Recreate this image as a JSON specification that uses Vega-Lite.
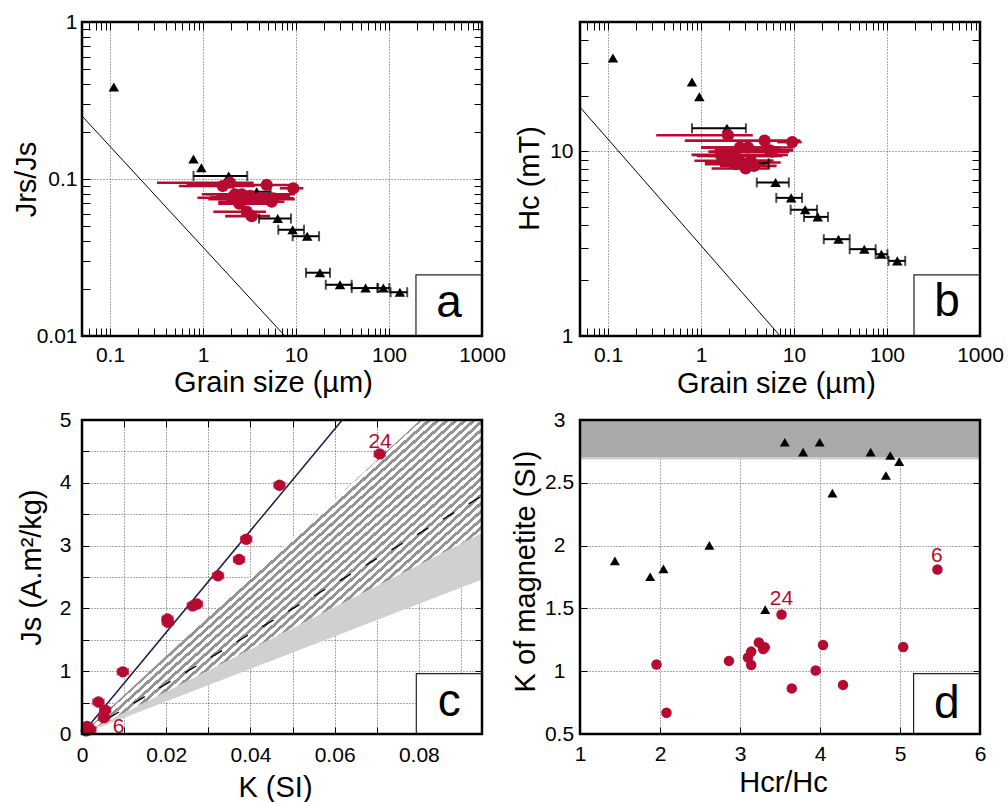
{
"$schema": "https://vega.github.io/schema/vega-lite/v6.json",
"padding": {"left": 12, "top": 11, "right": 4, "bottom": 4},
"background": "white",
"config": {
  "view": {"stroke": null},
  "font": "Liberation Sans",
  "text": {"font": "Liberation Sans"},
  "axis": {"grid": false, "labelFont": "Liberation Sans", "labelFontSize": 21, "labelColor": "black", "titleFont": "Liberation Sans", "titleFontSize": 29, "titleFontWeight": "normal", "titleColor": "black", "domain": false, "tickColor": "black", "tickWidth": 1, "gridColor": "#555555", "gridDash": [1, 2], "gridWidth": 1, "labelFlush": false, "labelOverlap": false, "labelBound": false}
},
"columns": 2,
"spacing": {"row": 84, "column": 98},
"bounds": "flush",
"datasets": {
  "a_line": [{"d": 0.05, "v": 0.252}, {"d": 7.6, "v": 0.01}],
  "a_tri": [
    {"d": 0.11, "v": 0.385}, {"d": 0.79, "v": 0.134}, {"d": 0.96, "v": 0.118},
    {"d": 1.89, "v": 0.1045, "lo": 0.79, "hi": 2.99}, {"d": 3.78, "v": 0.083, "lo": 2.12, "hi": 5.34},
    {"d": 6.36, "v": 0.056, "lo": 4.0, "hi": 8.83}, {"d": 9.2, "v": 0.0475, "lo": 6.45, "hi": 12.2},
    {"d": 13.2, "v": 0.0432, "lo": 9.2, "hi": 17.7}, {"d": 18.1, "v": 0.0253, "lo": 12.8, "hi": 23.2},
    {"d": 29.7, "v": 0.0212, "lo": 20.9, "hi": 39.7}, {"d": 56, "v": 0.0202, "lo": 39.7, "hi": 75.5},
    {"d": 87, "v": 0.0202, "lo": 75.5, "hi": 101}, {"d": 131, "v": 0.019, "lo": 104, "hi": 157}],
  "a_red": [
    {"d": 1.63, "v": 0.0902, "lo": 0.55, "hi": 3.6}, {"d": 1.95, "v": 0.0947, "lo": 0.32, "hi": 3.5},
    {"d": 4.84, "v": 0.0916, "lo": 0.67, "hi": 9.35}, {"d": 9.35, "v": 0.0873, "lo": 6.7, "hi": 12.0},
    {"d": 2.21, "v": 0.0799, "lo": 0.97, "hi": 7.9}, {"d": 2.61, "v": 0.0799, "lo": 1.1, "hi": 9.7},
    {"d": 2.04, "v": 0.076, "lo": 0.87, "hi": 8.6}, {"d": 2.5, "v": 0.0743, "lo": 1.14, "hi": 9.7},
    {"d": 3.2, "v": 0.078, "lo": 1.4, "hi": 8.6}, {"d": 4.1, "v": 0.076, "lo": 1.3, "hi": 8.0},
    {"d": 5.7, "v": 0.0754, "lo": 1.5, "hi": 9.5}, {"d": 5.48, "v": 0.0717, "lo": 1.46, "hi": 7.5},
    {"d": 2.46, "v": 0.0696, "lo": 1.46, "hi": 5.9}, {"d": 2.95, "v": 0.0619, "lo": 1.29, "hi": 4.75},
    {"d": 3.34, "v": 0.058, "lo": 1.73, "hi": 5.26}, {"d": 2.8, "v": 0.0765, "lo": 1.2, "hi": 7.0}],
  "b_line": [{"d": 0.05, "v": 17.3}, {"d": 7.1, "v": 1}],
  "b_tri": [
    {"d": 0.113, "v": 31.9}, {"d": 0.8, "v": 23.7}, {"d": 0.96, "v": 19.7},
    {"d": 1.9, "v": 13.3, "lo": 0.8, "hi": 3.04}, {"d": 3.78, "v": 8.61, "lo": 2.12, "hi": 5.34},
    {"d": 6.34, "v": 6.77, "lo": 3.98, "hi": 8.8}, {"d": 9.33, "v": 5.59, "lo": 6.45, "hi": 12.2},
    {"d": 13.2, "v": 4.82, "lo": 9.2, "hi": 17.7}, {"d": 18.0, "v": 4.41, "lo": 12.8, "hi": 23.2},
    {"d": 30.1, "v": 3.34, "lo": 20.9, "hi": 39.7}, {"d": 57, "v": 2.95, "lo": 39.7, "hi": 75.5},
    {"d": 87, "v": 2.77, "lo": 75.5, "hi": 101}, {"d": 129, "v": 2.55, "lo": 104, "hi": 157}],
  "b_red": [
    {"d": 1.95, "v": 12.2, "lo": 0.33, "hi": 3.6}, {"d": 4.83, "v": 11.4, "lo": 0.67, "hi": 11.7},
    {"d": 9.57, "v": 11.2, "lo": 6.6, "hi": 12.1}, {"d": 2.62, "v": 10.47, "lo": 1.0, "hi": 9.8},
    {"d": 3.2, "v": 10.47, "lo": 1.0, "hi": 7.2}, {"d": 5.5, "v": 10.1, "lo": 1.4, "hi": 9.8},
    {"d": 5.8, "v": 9.95, "lo": 1.2, "hi": 8.9}, {"d": 1.63, "v": 9.55, "lo": 0.79, "hi": 8.6},
    {"d": 1.8, "v": 9.43, "lo": 0.9, "hi": 7.5}, {"d": 2.3, "v": 9.43, "lo": 1.2, "hi": 6.5},
    {"d": 2.09, "v": 8.87, "lo": 0.85, "hi": 6.0}, {"d": 2.67, "v": 8.69, "lo": 1.1, "hi": 7.2},
    {"d": 3.42, "v": 8.87, "lo": 1.5, "hi": 6.0}, {"d": 3.71, "v": 8.33, "lo": 1.6, "hi": 6.5},
    {"d": 3.02, "v": 8.06, "lo": 1.3, "hi": 5.5}, {"d": 2.36, "v": 8.51, "lo": 1.1, "hi": 5.0}],
  "c_grey": [{"k": 0, "lo": 0, "hi": 0}, {"k": 0.095, "lo": 2.46, "hi": 3.2}],
  "c_hatch": [{"k": 0, "lo": 0, "hi": 0}, {"k": 0.0803, "lo": 2.705, "hi": 5}, {"k": 0.095, "lo": 3.2, "hi": 5}],
  "c_dash": [{"k": 0, "j": 0}, {"k": 0.095, "j": 3.79}],
  "c_navy": [{"k": 0, "j": 0}, {"k": 0.0618, "j": 5}],
  "c_red": [
    {"k": 0.0707, "j": 4.46, "lo": 0.0694, "hi": 0.072}, {"k": 0.0469, "j": 3.96, "lo": 0.0456, "hi": 0.0482},
    {"k": 0.039, "j": 3.1, "lo": 0.0377, "hi": 0.0403}, {"k": 0.0373, "j": 2.78, "lo": 0.036, "hi": 0.0386},
    {"k": 0.0323, "j": 2.52, "lo": 0.031, "hi": 0.0336}, {"k": 0.0273, "j": 2.07, "lo": 0.026, "hi": 0.0286},
    {"k": 0.0263, "j": 2.04, "lo": 0.025, "hi": 0.0276}, {"k": 0.0203, "j": 1.83, "lo": 0.019, "hi": 0.0216},
    {"k": 0.0204, "j": 1.78, "lo": 0.0191, "hi": 0.0217}, {"k": 0.0097, "j": 0.99, "lo": 0.0084, "hi": 0.011},
    {"k": 0.0039, "j": 0.51, "lo": 0.0026, "hi": 0.0052}, {"k": 0.0055, "j": 0.38, "lo": 0.0042, "hi": 0.0068},
    {"k": 0.0052, "j": 0.26, "lo": 0.0039, "hi": 0.0065}, {"k": 0.0012, "j": 0.12, "lo": 0.0001, "hi": 0.0025},
    {"k": 0.002, "j": 0.07, "lo": 0.0007, "hi": 0.0033}, {"k": 0.001, "j": 0.05, "lo": 0.0001, "hi": 0.0023}],
  "c_lab": [{"k": 0.0708, "j": 4.55, "t": "24"}, {"k": 0.0087, "j": 0.01, "t": "6"}],
  "d_tri": [
    {"hr": 1.436, "k": 1.879}, {"hr": 1.877, "k": 1.752}, {"hr": 2.043, "k": 1.815}, {"hr": 2.617, "k": 2.002},
    {"hr": 3.315, "k": 1.49}, {"hr": 3.56, "k": 2.823}, {"hr": 3.789, "k": 2.744}, {"hr": 3.996, "k": 2.823},
    {"hr": 4.155, "k": 2.418}, {"hr": 4.633, "k": 2.744}, {"hr": 4.878, "k": 2.717}, {"hr": 4.824, "k": 2.558},
    {"hr": 4.99, "k": 2.669}],
  "d_red": [
    {"hr": 5.468, "k": 1.81}, {"hr": 3.519, "k": 1.452}, {"hr": 3.236, "k": 1.228}, {"hr": 3.29, "k": 1.177},
    {"hr": 3.31, "k": 1.19}, {"hr": 3.14, "k": 1.156}, {"hr": 3.1, "k": 1.109}, {"hr": 3.14, "k": 1.05},
    {"hr": 2.862, "k": 1.082}, {"hr": 1.956, "k": 1.053}, {"hr": 2.081, "k": 0.669}, {"hr": 3.647, "k": 0.863},
    {"hr": 3.946, "k": 1.006}, {"hr": 4.038, "k": 1.209}, {"hr": 4.288, "k": 0.891}, {"hr": 5.04, "k": 1.193}],
  "d_lab": [{"hr": 3.519, "k": 1.526, "t": "24"}, {"hr": 5.46, "k": 1.871, "t": "6"}]
},
"concat": [
{
  "width": 400, "height": 314,
  "resolve": {"axis": {"x": "independent", "y": "independent"}},
  "layer": [
    {"data": {"name": "a_line"}, "mark": {"type": "line", "color": "black", "strokeWidth": 1},
     "encoding": {
       "x": {"field": "d", "type": "quantitative", "scale": {"type": "log", "domain": [0.05, 1000], "nice": false},
             "axis": {"orient": "bottom", "values": [0.05,0.06,0.07,0.08,0.09,0.1,0.2,0.3,0.4,0.5,0.6,0.7,0.8,0.9,1,2,3,4,5,6,7,8,9,10,20,30,40,50,60,70,80,90,100,200,300,400,500,600,700,800,900,1000],
                      "format": "~g", "labelExpr": "abs(log(datum.value)/LN10-round(log(datum.value)/LN10))<0.001 ? datum.label : ''",
                      "labelBaseline": "alphabetic", "labelPadding": 33, "grid": false, "tickSize": -8,
                      "encode": {"ticks": {"update": {"y2": [{"test": "abs(log(datum.value)/LN10-round(log(datum.value)/LN10))<0.001", "value": -8}, {"value": -4}]}}},
                      "title": "Grain size (µm)", "titleX": 191, "titleY": 55, "titleAlign": "center", "titleBaseline": "alphabetic"}},
       "y": {"field": "v", "type": "quantitative", "scale": {"type": "log", "domain": [0.01, 1], "nice": false},
             "axis": {"orient": "left", "values": [0.01,0.02,0.03,0.04,0.05,0.06,0.07,0.08,0.09,0.1,0.2,0.3,0.4,0.5,0.6,0.7,0.8,0.9,1],
                      "format": "~g", "labelExpr": "abs(log(datum.value)/LN10-round(log(datum.value)/LN10))<0.001 ? datum.label : ''",
                      "labelPadding": 13, "grid": false, "tickSize": -8,
                      "encode": {"ticks": {"update": {"x2": [{"test": "abs(log(datum.value)/LN10-round(log(datum.value)/LN10))<0.001", "value": 8}, {"value": 4}]}}},
                      "title": "Jrs/Js", "titleX": -47, "titleY": 157, "titleAlign": "center", "titleBaseline": "alphabetic"}}}},
    {"data": {"values": [{}]}, "mark": {"type": "rect", "fill": "white", "stroke": "#222222", "strokeWidth": 1.2},
     "encoding": {"x": {"datum": 195, "type": "quantitative", "scale": {"type": "log", "domain": [0.05, 1000], "nice": false},
                        "axis": {"orient": "bottom", "values": [0.1, 1, 10, 100], "tickCount": 4, "grid": true, "labels": false, "ticks": false, "domain": false, "title": null, "minExtent": 0, "maxExtent": 0}},
                  "x2": {"datum": 1000},
                  "y": {"datum": 0.01, "type": "quantitative", "scale": {"type": "log", "domain": [0.01, 1], "nice": false},
                        "axis": {"orient": "left", "values": [0.1], "tickCount": 2, "grid": true, "labels": false, "ticks": false, "domain": false, "title": null, "minExtent": 0, "maxExtent": 0}},
                  "y2": {"datum": 0.0245}}},
    {"data": {"values": [{}]}, "mark": {"type": "text", "text": "a", "fontSize": 46, "align": "center", "baseline": "alphabetic", "color": "black"},
     "encoding": {"x": {"datum": 441, "type": "quantitative", "scale": {"type": "log", "domain": [0.05, 1000], "nice": false}, "axis": null},
                  "y": {"datum": 0.0132, "type": "quantitative", "scale": {"type": "log", "domain": [0.01, 1], "nice": false}, "axis": null}}},
    {"data": {"name": "a_red"}, "mark": {"type": "rule", "color": "#b70a30", "strokeWidth": 2.6},
     "encoding": {"x": {"field": "lo", "type": "quantitative", "scale": {"type": "log", "domain": [0.05, 1000], "nice": false}, "axis": null}, "x2": {"field": "hi"},
                  "y": {"field": "v", "type": "quantitative", "scale": {"type": "log", "domain": [0.01, 1], "nice": false}, "axis": null}}},
    {"data": {"name": "a_tri"}, "transform": [{"filter": "isValid(datum.lo)"}],
     "mark": {"type": "errorbar", "ticks": true, "size": 10, "thickness": 2, "color": "black"},
     "encoding": {"x": {"field": "lo", "type": "quantitative", "scale": {"type": "log", "domain": [0.05, 1000], "nice": false}, "axis": null}, "x2": {"field": "hi"},
                  "y": {"field": "v", "type": "quantitative", "scale": {"type": "log", "domain": [0.01, 1], "nice": false}, "axis": null}}},
    {"data": {"name": "a_tri"}, "mark": {"type": "point", "shape": "triangle-up", "filled": true, "color": "black", "size": 110, "opacity": 1},
     "encoding": {"x": {"field": "d", "type": "quantitative", "scale": {"type": "log", "domain": [0.05, 1000], "nice": false}, "axis": null},
                  "y": {"field": "v", "type": "quantitative", "scale": {"type": "log", "domain": [0.01, 1], "nice": false}, "axis": null}}},
    {"data": {"name": "a_red"}, "mark": {"type": "circle", "color": "#b70a30", "size": 150, "opacity": 1},
     "encoding": {"x": {"field": "d", "type": "quantitative", "scale": {"type": "log", "domain": [0.05, 1000], "nice": false}, "axis": null},
                  "y": {"field": "v", "type": "quantitative", "scale": {"type": "log", "domain": [0.01, 1], "nice": false}, "axis": null}}},
    {"data": {"values": [{}]}, "mark": {"type": "rect", "fillOpacity": 0, "stroke": "black", "strokeWidth": 2.5},
     "encoding": {
       "x": {"datum": 0.05, "type": "quantitative", "scale": {"type": "log", "domain": [0.05, 1000], "nice": false},
             "axis": {"orient": "top", "values": [0.05,0.06,0.07,0.08,0.09,0.1,0.2,0.3,0.4,0.5,0.6,0.7,0.8,0.9,1,2,3,4,5,6,7,8,9,10,20,30,40,50,60,70,80,90,100,200,300,400,500,600,700,800,900,1000],
                      "labels": false, "title": null, "grid": false, "tickSize": -8,
                      "encode": {"ticks": {"update": {"y2": [{"test": "abs(log(datum.value)/LN10-round(log(datum.value)/LN10))<0.001", "value": 8}, {"value": 4}]}}}}},
       "x2": {"datum": 1000},
       "y": {"datum": 0.01, "type": "quantitative", "scale": {"type": "log", "domain": [0.01, 1], "nice": false},
             "axis": {"orient": "right", "values": [0.01,0.02,0.03,0.04,0.05,0.06,0.07,0.08,0.09,0.1,0.2,0.3,0.4,0.5,0.6,0.7,0.8,0.9,1],
                      "labels": false, "title": null, "grid": false, "tickSize": -8,
                      "encode": {"ticks": {"update": {"x2": [{"test": "abs(log(datum.value)/LN10-round(log(datum.value)/LN10))<0.001", "value": -8}, {"value": -4}]}}}}},
       "y2": {"datum": 1}}}
  ]
},
{
  "width": 400, "height": 314,
  "resolve": {"axis": {"x": "independent", "y": "independent"}},
  "layer": [
    {"data": {"name": "b_line"}, "mark": {"type": "line", "color": "black", "strokeWidth": 1},
     "encoding": {
       "x": {"field": "d", "type": "quantitative", "scale": {"type": "log", "domain": [0.05, 1000], "nice": false},
             "axis": {"orient": "bottom", "values": [0.05,0.06,0.07,0.08,0.09,0.1,0.2,0.3,0.4,0.5,0.6,0.7,0.8,0.9,1,2,3,4,5,6,7,8,9,10,20,30,40,50,60,70,80,90,100,200,300,400,500,600,700,800,900,1000],
                      "format": "~g", "labelExpr": "abs(log(datum.value)/LN10-round(log(datum.value)/LN10))<0.001 ? datum.label : ''",
                      "labelBaseline": "alphabetic", "labelPadding": 33, "grid": false, "tickSize": -8,
                      "encode": {"ticks": {"update": {"y2": [{"test": "abs(log(datum.value)/LN10-round(log(datum.value)/LN10))<0.001", "value": -8}, {"value": -4}]}}},
                      "title": "Grain size (µm)", "titleX": 196, "titleY": 56, "titleAlign": "center", "titleBaseline": "alphabetic"}},
       "y": {"field": "v", "type": "quantitative", "scale": {"type": "log", "domain": [1, 50], "nice": false},
             "axis": {"orient": "left", "values": [1,2,3,4,5,6,7,8,9,10,20,30,40,50],
                      "format": "~g", "labelExpr": "abs(log(datum.value)/LN10-round(log(datum.value)/LN10))<0.001 ? datum.label : ''",
                      "labelPadding": 15, "grid": false, "tickSize": -8,
                      "encode": {"ticks": {"update": {"x2": [{"test": "abs(log(datum.value)/LN10-round(log(datum.value)/LN10))<0.001", "value": 8}, {"value": 4}]}}},
                      "title": "Hc (mT)", "titleX": -42, "titleY": 156, "titleAlign": "center", "titleBaseline": "alphabetic"}}}},
    {"data": {"values": [{}]}, "mark": {"type": "rect", "fill": "white", "stroke": "#222222", "strokeWidth": 1.2},
     "encoding": {"x": {"datum": 195, "type": "quantitative", "scale": {"type": "log", "domain": [0.05, 1000], "nice": false},
                        "axis": {"orient": "bottom", "values": [0.1, 1, 10, 100], "tickCount": 4, "grid": true, "labels": false, "ticks": false, "domain": false, "title": null, "minExtent": 0, "maxExtent": 0}},
                  "x2": {"datum": 1000},
                  "y": {"datum": 1, "type": "quantitative", "scale": {"type": "log", "domain": [1, 50], "nice": false},
                        "axis": {"orient": "left", "values": [10], "tickCount": 2, "grid": true, "labels": false, "ticks": false, "domain": false, "title": null, "minExtent": 0, "maxExtent": 0}},
                  "y2": {"datum": 2.14}}},
    {"data": {"values": [{}]}, "mark": {"type": "text", "text": "b", "fontSize": 46, "align": "center", "baseline": "alphabetic", "color": "black"},
     "encoding": {"x": {"datum": 441, "type": "quantitative", "scale": {"type": "log", "domain": [0.05, 1000], "nice": false}, "axis": null},
                  "y": {"datum": 1.28, "type": "quantitative", "scale": {"type": "log", "domain": [1, 50], "nice": false}, "axis": null}}},
    {"data": {"name": "b_red"}, "mark": {"type": "rule", "color": "#b70a30", "strokeWidth": 2.6},
     "encoding": {"x": {"field": "lo", "type": "quantitative", "scale": {"type": "log", "domain": [0.05, 1000], "nice": false}, "axis": null}, "x2": {"field": "hi"},
                  "y": {"field": "v", "type": "quantitative", "scale": {"type": "log", "domain": [1, 50], "nice": false}, "axis": null}}},
    {"data": {"name": "b_tri"}, "transform": [{"filter": "isValid(datum.lo)"}],
     "mark": {"type": "errorbar", "ticks": true, "size": 10, "thickness": 2, "color": "black"},
     "encoding": {"x": {"field": "lo", "type": "quantitative", "scale": {"type": "log", "domain": [0.05, 1000], "nice": false}, "axis": null}, "x2": {"field": "hi"},
                  "y": {"field": "v", "type": "quantitative", "scale": {"type": "log", "domain": [1, 50], "nice": false}, "axis": null}}},
    {"data": {"name": "b_tri"}, "mark": {"type": "point", "shape": "triangle-up", "filled": true, "color": "black", "size": 110, "opacity": 1},
     "encoding": {"x": {"field": "d", "type": "quantitative", "scale": {"type": "log", "domain": [0.05, 1000], "nice": false}, "axis": null},
                  "y": {"field": "v", "type": "quantitative", "scale": {"type": "log", "domain": [1, 50], "nice": false}, "axis": null}}},
    {"data": {"name": "b_red"}, "mark": {"type": "circle", "color": "#b70a30", "size": 150, "opacity": 1},
     "encoding": {"x": {"field": "d", "type": "quantitative", "scale": {"type": "log", "domain": [0.05, 1000], "nice": false}, "axis": null},
                  "y": {"field": "v", "type": "quantitative", "scale": {"type": "log", "domain": [1, 50], "nice": false}, "axis": null}}},
    {"data": {"values": [{}]}, "mark": {"type": "rect", "fillOpacity": 0, "stroke": "black", "strokeWidth": 2.5},
     "encoding": {
       "x": {"datum": 0.05, "type": "quantitative", "scale": {"type": "log", "domain": [0.05, 1000], "nice": false},
             "axis": {"orient": "top", "values": [0.05,0.06,0.07,0.08,0.09,0.1,0.2,0.3,0.4,0.5,0.6,0.7,0.8,0.9,1,2,3,4,5,6,7,8,9,10,20,30,40,50,60,70,80,90,100,200,300,400,500,600,700,800,900,1000],
                      "labels": false, "title": null, "grid": false, "tickSize": -8,
                      "encode": {"ticks": {"update": {"y2": [{"test": "abs(log(datum.value)/LN10-round(log(datum.value)/LN10))<0.001", "value": 8}, {"value": 4}]}}}}},
       "x2": {"datum": 1000},
       "y": {"datum": 1, "type": "quantitative", "scale": {"type": "log", "domain": [1, 50], "nice": false},
             "axis": {"orient": "right", "values": [1,2,3,4,5,6,7,8,9,10,20,30,40,50],
                      "labels": false, "title": null, "grid": false, "tickSize": -8,
                      "encode": {"ticks": {"update": {"x2": [{"test": "abs(log(datum.value)/LN10-round(log(datum.value)/LN10))<0.001", "value": -8}, {"value": -4}]}}}}},
       "y2": {"datum": 50}}}
  ]
},
{
  "width": 400, "height": 314,
  "resolve": {"axis": {"x": "independent", "y": "independent"}},
  "layer": [
    {"data": {"name": "c_grey"}, "mark": {"type": "area", "color": "#d0d0d0", "opacity": 1},
     "encoding": {
       "x": {"field": "k", "type": "quantitative", "scale": {"domain": [0, 0.095], "nice": false, "zero": false},
             "axis": {"orient": "bottom", "values": [0,0.01,0.02,0.03,0.04,0.05,0.06,0.07,0.08,0.09], "format": "~g",
                      "labelExpr": "round(datum.value*100) % 2 == 0 ? datum.label : ''",
                      "labelBaseline": "alphabetic", "labelPadding": 34, "grid": false, "tickSize": -7,
                      "title": "K (SI)", "titleX": 193, "titleY": 62, "titleAlign": "center", "titleBaseline": "alphabetic"}},
       "y": {"field": "lo", "type": "quantitative", "scale": {"domain": [0, 5], "nice": false},
             "axis": {"orient": "left", "values": [0,0.5,1,1.5,2,2.5,3,3.5,4,4.5,5], "format": "~g",
                      "labelExpr": "datum.value % 1 == 0 ? datum.label : ''",
                      "labelPadding": 18, "grid": false, "tickSize": -7,
                      "title": "Js (A.m²/kg)", "titleX": -42, "titleY": 147, "titleAlign": "center", "titleBaseline": "alphabetic"}},
       "y2": {"field": "hi"}}},
    {"data": {"name": "c_hatch"},
     "mark": {"type": "area", "opacity": 1, "fill": {"gradient": "linear", "x1": 0, "y1": 0, "x2": 1, "y2": 0.87, "stops": [
       {"offset": 0, "color": "#ffffff"},
       {"offset": 0.44, "color": "#ffffff"}, {"offset": 0.44, "color": "#949494"}, {"offset": 0.4462, "color": "#949494"}, {"offset": 0.4462, "color": "#ffffff"},
       {"offset": 0.4528, "color": "#ffffff"}, {"offset": 0.4528, "color": "#949494"}, {"offset": 0.459, "color": "#949494"}, {"offset": 0.459, "color": "#ffffff"},
       {"offset": 0.4656, "color": "#ffffff"}, {"offset": 0.4656, "color": "#949494"}, {"offset": 0.4718, "color": "#949494"}, {"offset": 0.4718, "color": "#ffffff"},
       {"offset": 0.4784, "color": "#ffffff"}, {"offset": 0.4784, "color": "#949494"}, {"offset": 0.4846, "color": "#949494"}, {"offset": 0.4846, "color": "#ffffff"},
       {"offset": 0.4912, "color": "#ffffff"}, {"offset": 0.4912, "color": "#949494"}, {"offset": 0.4974, "color": "#949494"}, {"offset": 0.4974, "color": "#ffffff"},
       {"offset": 0.504, "color": "#ffffff"}, {"offset": 0.504, "color": "#949494"}, {"offset": 0.5102, "color": "#949494"}, {"offset": 0.5102, "color": "#ffffff"},
       {"offset": 0.5168, "color": "#ffffff"}, {"offset": 0.5168, "color": "#949494"}, {"offset": 0.523, "color": "#949494"}, {"offset": 0.523, "color": "#ffffff"},
       {"offset": 0.5296, "color": "#ffffff"}, {"offset": 0.5296, "color": "#949494"}, {"offset": 0.5358, "color": "#949494"}, {"offset": 0.5358, "color": "#ffffff"},
       {"offset": 0.5424, "color": "#ffffff"}, {"offset": 0.5424, "color": "#949494"}, {"offset": 0.5486, "color": "#949494"}, {"offset": 0.5486, "color": "#ffffff"},
       {"offset": 0.5552, "color": "#ffffff"}, {"offset": 0.5552, "color": "#949494"}, {"offset": 0.5614, "color": "#949494"}, {"offset": 0.5614, "color": "#ffffff"},
       {"offset": 0.568, "color": "#ffffff"}, {"offset": 0.568, "color": "#949494"}, {"offset": 0.5742, "color": "#949494"}, {"offset": 0.5742, "color": "#ffffff"},
       {"offset": 0.5808, "color": "#ffffff"}, {"offset": 0.5808, "color": "#949494"}, {"offset": 0.587, "color": "#949494"}, {"offset": 0.587, "color": "#ffffff"},
       {"offset": 0.5936, "color": "#ffffff"}, {"offset": 0.5936, "color": "#949494"}, {"offset": 0.5998, "color": "#949494"}, {"offset": 0.5998, "color": "#ffffff"},
       {"offset": 0.6064, "color": "#ffffff"}, {"offset": 0.6064, "color": "#949494"}, {"offset": 0.6126, "color": "#949494"}, {"offset": 0.6126, "color": "#ffffff"},
       {"offset": 0.6192, "color": "#ffffff"}, {"offset": 0.6192, "color": "#949494"}, {"offset": 0.6254, "color": "#949494"}, {"offset": 0.6254, "color": "#ffffff"},
       {"offset": 0.632, "color": "#ffffff"}, {"offset": 0.632, "color": "#949494"}, {"offset": 0.6382, "color": "#949494"}, {"offset": 0.6382, "color": "#ffffff"},
       {"offset": 0.6448, "color": "#ffffff"}, {"offset": 0.6448, "color": "#949494"}, {"offset": 0.651, "color": "#949494"}, {"offset": 0.651, "color": "#ffffff"},
       {"offset": 0.6576, "color": "#ffffff"}, {"offset": 0.6576, "color": "#949494"}, {"offset": 0.6638, "color": "#949494"}, {"offset": 0.6638, "color": "#ffffff"},
       {"offset": 0.6704, "color": "#ffffff"}, {"offset": 0.6704, "color": "#949494"}, {"offset": 0.6766, "color": "#949494"}, {"offset": 0.6766, "color": "#ffffff"},
       {"offset": 0.6832, "color": "#ffffff"}, {"offset": 0.6832, "color": "#949494"}, {"offset": 0.6894, "color": "#949494"}, {"offset": 0.6894, "color": "#ffffff"},
       {"offset": 0.696, "color": "#ffffff"}, {"offset": 0.696, "color": "#949494"}, {"offset": 0.7022, "color": "#949494"}, {"offset": 0.7022, "color": "#ffffff"},
       {"offset": 0.7088, "color": "#ffffff"}, {"offset": 0.7088, "color": "#949494"}, {"offset": 0.715, "color": "#949494"}, {"offset": 0.715, "color": "#ffffff"},
       {"offset": 0.7216, "color": "#ffffff"}, {"offset": 0.7216, "color": "#949494"}, {"offset": 0.7278, "color": "#949494"}, {"offset": 0.7278, "color": "#ffffff"},
       {"offset": 0.7344, "color": "#ffffff"}, {"offset": 0.7344, "color": "#949494"}, {"offset": 0.7406, "color": "#949494"}, {"offset": 0.7406, "color": "#ffffff"},
       {"offset": 0.7472, "color": "#ffffff"}, {"offset": 0.7472, "color": "#949494"}, {"offset": 0.7534, "color": "#949494"}, {"offset": 0.7534, "color": "#ffffff"},
       {"offset": 0.76, "color": "#ffffff"}, {"offset": 0.76, "color": "#949494"}, {"offset": 0.7662, "color": "#949494"}, {"offset": 0.7662, "color": "#ffffff"},
       {"offset": 1, "color": "#ffffff"}]}},
     "encoding": {"x": {"field": "k", "type": "quantitative", "scale": {"domain": [0, 0.095], "nice": false, "zero": false}, "axis": null},
                  "y": {"field": "lo", "type": "quantitative", "scale": {"domain": [0, 5], "nice": false}, "axis": null},
                  "y2": {"field": "hi"}}},
    {"data": {"name": "c_dash"}, "mark": {"type": "line", "color": "black", "strokeWidth": 1.3, "strokeDash": [13, 17]},
     "encoding": {"x": {"field": "k", "type": "quantitative", "scale": {"domain": [0, 0.095], "nice": false, "zero": false}, "axis": null},
                  "y": {"field": "j", "type": "quantitative", "scale": {"domain": [0, 5], "nice": false}, "axis": null}}},
    {"data": {"name": "c_navy"}, "mark": {"type": "line", "color": "#20184a", "strokeWidth": 1.5},
     "encoding": {"x": {"field": "k", "type": "quantitative", "scale": {"domain": [0, 0.095], "nice": false, "zero": false}, "axis": null},
                  "y": {"field": "j", "type": "quantitative", "scale": {"domain": [0, 5], "nice": false}, "axis": null}}},
    {"data": {"name": "c_red"}, "mark": {"type": "errorbar", "ticks": true, "size": 7, "thickness": 1.5, "color": "#b70a30"},
     "encoding": {"x": {"field": "lo", "type": "quantitative", "scale": {"domain": [0, 0.095], "nice": false, "zero": false}, "axis": null}, "x2": {"field": "hi"},
                  "y": {"field": "j", "type": "quantitative", "scale": {"domain": [0, 5], "nice": false}, "axis": null}}},
    {"data": {"name": "c_red"}, "mark": {"type": "circle", "color": "#b70a30", "size": 130, "opacity": 1},
     "encoding": {"x": {"field": "k", "type": "quantitative", "scale": {"domain": [0, 0.095], "nice": false, "zero": false}, "axis": null},
                  "y": {"field": "j", "type": "quantitative", "scale": {"domain": [0, 5], "nice": false}, "axis": null}}},
    {"data": {"name": "c_lab"}, "mark": {"type": "text", "fontSize": 21, "align": "center", "baseline": "alphabetic", "color": "#b70a30"},
     "encoding": {"x": {"field": "k", "type": "quantitative", "scale": {"domain": [0, 0.095], "nice": false, "zero": false}, "axis": null},
                  "y": {"field": "j", "type": "quantitative", "scale": {"domain": [0, 5], "nice": false}, "axis": null},
                  "text": {"field": "t"}}},
    {"data": {"values": [{}]}, "mark": {"type": "rect", "fill": "white", "stroke": "#222222", "strokeWidth": 1.2},
     "encoding": {"x": {"datum": 0.0794, "type": "quantitative", "scale": {"domain": [0, 0.095], "nice": false, "zero": false},
                        "axis": {"orient": "bottom", "values": [0.01,0.02,0.03,0.04,0.05,0.06,0.07,0.08,0.09], "tickCount": 10, "grid": true, "labels": false, "ticks": false, "domain": false, "title": null, "minExtent": 0, "maxExtent": 0}},
                  "x2": {"datum": 0.095},
                  "y": {"datum": 0, "type": "quantitative", "scale": {"domain": [0, 5], "nice": false},
                        "axis": {"orient": "left", "values": [0.5,1,1.5,2,2.5,3,3.5,4,4.5], "tickCount": 10, "grid": true, "labels": false, "ticks": false, "domain": false, "title": null, "minExtent": 0, "maxExtent": 0}},
                  "y2": {"datum": 0.96}}},
    {"data": {"values": [{}]}, "mark": {"type": "text", "text": "c", "fontSize": 46, "align": "center", "baseline": "alphabetic", "color": "black"},
     "encoding": {"x": {"datum": 0.0872, "type": "quantitative", "scale": {"domain": [0, 0.095], "nice": false, "zero": false}, "axis": null},
                  "y": {"datum": 0.287, "type": "quantitative", "scale": {"domain": [0, 5], "nice": false}, "axis": null}}},
    {"data": {"values": [{}]}, "mark": {"type": "rect", "fillOpacity": 0, "stroke": "black", "strokeWidth": 2.5},
     "encoding": {
       "x": {"datum": 0, "type": "quantitative", "scale": {"domain": [0, 0.095], "nice": false, "zero": false},
             "axis": {"orient": "top", "values": [0,0.01,0.02,0.03,0.04,0.05,0.06,0.07,0.08,0.09], "labels": false, "title": null, "grid": false, "tickSize": -7}},
       "x2": {"datum": 0.095},
       "y": {"datum": 0, "type": "quantitative", "scale": {"domain": [0, 5], "nice": false},
             "axis": {"orient": "right", "values": [0,0.5,1,1.5,2,2.5,3,3.5,4,4.5,5], "labels": false, "title": null, "grid": false, "tickSize": -7}},
       "y2": {"datum": 5}}}
  ]
},
{
  "width": 400, "height": 314,
  "resolve": {"axis": {"x": "independent", "y": "independent"}},
  "layer": [
    {"data": {"values": [{}]}, "mark": {"type": "rect", "color": "#a9a9a9", "opacity": 1},
     "encoding": {
       "x": {"datum": 1, "type": "quantitative", "scale": {"domain": [1, 6], "nice": false, "zero": false},
             "axis": {"orient": "bottom", "values": [1,2,3,4,5,6], "format": "~g",
                      "labelBaseline": "alphabetic", "labelPadding": 33, "grid": false, "tickSize": -7,
                      "title": "Hcr/Hc", "titleX": 203, "titleY": 57, "titleAlign": "center", "titleBaseline": "alphabetic"}},
       "x2": {"datum": 6},
       "y": {"datum": 2.705, "type": "quantitative", "scale": {"domain": [0.5, 3], "nice": false, "zero": false},
             "axis": {"orient": "left", "values": [0.5,1,1.5,2,2.5,3], "format": "~g",
                      "labelAlign": "center", "labelPadding": 28, "grid": false, "tickSize": -7,
                      "title": "K of magnetite (SI)", "titleX": -46, "titleY": 151, "titleAlign": "center", "titleBaseline": "alphabetic"}},
       "y2": {"datum": 3}}},
    {"data": {"values": [{}]}, "mark": {"type": "rect", "color": "#cdcdcd", "opacity": 1},
     "encoding": {"x": {"datum": 1, "type": "quantitative", "scale": {"domain": [1, 6], "nice": false, "zero": false}, "axis": null}, "x2": {"datum": 6},
                  "y": {"datum": 2.685, "type": "quantitative", "scale": {"domain": [0.5, 3], "nice": false, "zero": false}, "axis": null}, "y2": {"datum": 2.705}}},
    {"data": {"name": "d_tri"}, "mark": {"type": "point", "shape": "triangle-up", "filled": true, "color": "black", "size": 100, "opacity": 1},
     "encoding": {"x": {"field": "hr", "type": "quantitative", "scale": {"domain": [1, 6], "nice": false, "zero": false}, "axis": null},
                  "y": {"field": "k", "type": "quantitative", "scale": {"domain": [0.5, 3], "nice": false, "zero": false}, "axis": null}}},
    {"data": {"name": "d_red"}, "mark": {"type": "circle", "color": "#b70a30", "size": 110, "opacity": 1},
     "encoding": {"x": {"field": "hr", "type": "quantitative", "scale": {"domain": [1, 6], "nice": false, "zero": false}, "axis": null},
                  "y": {"field": "k", "type": "quantitative", "scale": {"domain": [0.5, 3], "nice": false, "zero": false}, "axis": null}}},
    {"data": {"name": "d_lab"}, "mark": {"type": "text", "fontSize": 21, "align": "center", "baseline": "alphabetic", "color": "#b70a30"},
     "encoding": {"x": {"field": "hr", "type": "quantitative", "scale": {"domain": [1, 6], "nice": false, "zero": false}, "axis": null},
                  "y": {"field": "k", "type": "quantitative", "scale": {"domain": [0.5, 3], "nice": false, "zero": false}, "axis": null},
                  "text": {"field": "t"}}},
    {"data": {"values": [{}]}, "mark": {"type": "rect", "fill": "white", "stroke": "#222222", "strokeWidth": 1.2},
     "encoding": {"x": {"datum": 5.17, "type": "quantitative", "scale": {"domain": [1, 6], "nice": false, "zero": false},
                        "axis": {"orient": "bottom", "values": [2,3,4,5], "tickCount": 5, "grid": true, "labels": false, "ticks": false, "domain": false, "title": null, "minExtent": 0, "maxExtent": 0}},
                  "x2": {"datum": 6},
                  "y": {"datum": 0.5, "type": "quantitative", "scale": {"domain": [0.5, 3], "nice": false, "zero": false},
                        "axis": {"orient": "left", "values": [1,1.5,2,2.5], "tickCount": 5, "grid": true, "labels": false, "ticks": false, "domain": false, "title": null, "minExtent": 0, "maxExtent": 0}},
                  "y2": {"datum": 0.98}}},
    {"data": {"values": [{}]}, "mark": {"type": "text", "text": "d", "fontSize": 46, "align": "center", "baseline": "alphabetic", "color": "black"},
     "encoding": {"x": {"datum": 5.585, "type": "quantitative", "scale": {"domain": [1, 6], "nice": false, "zero": false}, "axis": null},
                  "y": {"datum": 0.627, "type": "quantitative", "scale": {"domain": [0.5, 3], "nice": false, "zero": false}, "axis": null}}},
    {"data": {"values": [{}]}, "mark": {"type": "rect", "fillOpacity": 0, "stroke": "black", "strokeWidth": 2.5},
     "encoding": {
       "x": {"datum": 1, "type": "quantitative", "scale": {"domain": [1, 6], "nice": false, "zero": false},
             "axis": {"orient": "top", "values": [1,2,3,4,5,6], "labels": false, "title": null, "grid": false, "tickSize": -7}},
       "x2": {"datum": 6},
       "y": {"datum": 0.5, "type": "quantitative", "scale": {"domain": [0.5, 3], "nice": false, "zero": false},
             "axis": {"orient": "right", "values": [0.5,1,1.5,2,2.5,3], "labels": false, "title": null, "grid": false, "tickSize": -7}},
       "y2": {"datum": 3}}}
  ]
}
]
}
